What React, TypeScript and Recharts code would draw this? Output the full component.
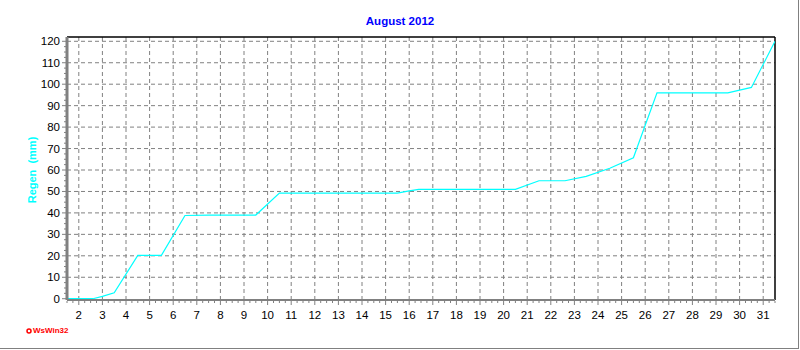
import React from "react";
import { LineChart, Line, XAxis, YAxis, ReferenceLine } from "recharts";

// rain sum (mm), x = day of month (end-of-day points)
const rainDays = [1.5, 2.6, 3.0, 3.5, 4.5, 5.5, 6.5, 7.5, 8.5, 9.5, 10.5, 11.5, 12.5, 13.5, 14.5, 15.5, 16.0, 16.4, 17.5, 18.5, 19.5, 20.5, 21.5, 22.6, 23.5, 24.5, 25.5, 26.5, 27.5, 28.5, 29.5, 30.5, 31.5];
const rainTotals = [0, 0, 1.1, 2.8, 20.2, 20.2, 38.8, 39, 39, 39, 49.2, 49.2, 49.2, 49.2, 49.2, 49.2, 50.3, 51, 51, 51, 51, 51, 55, 55, 57, 60.8, 65.7, 96, 96, 96, 96, 98.5, 120];

const dayLabels = [2, 3, 4, 5, 6, 7, 8, 9, 10, 11, 12, 13, 14, 15, 16, 17, 18, 19, 20, 21, 22, 23, 24, 25, 26, 27, 28, 29, 30, 31];
const rainLabels = [0, 10, 20, 30, 40, 50, 60, 70, 80, 90, 100, 110, 120];

const data = rainDays.map((d, i) => ({ day: d, rain: rainTotals[i] }));

// minor ticks: every 6 hours on x, every 2.5 mm on y
const xTicks = Array.from({ length: 121 }, (_, k) => 1.5 + k * 0.25);
const yTicks = Array.from({ length: 49 }, (_, k) => k * 2.5);

const font = "'Liberation Sans', Arial, sans-serif";
const grey = "#808080";

const XTick = (props: any) => {
  const { x, y, payload } = props;
  const major = Number.isInteger(payload.value);
  return (
    <g>
      <line x1={x} x2={x} y1={y + 1} y2={y + (major ? 5 : 3)} stroke={grey} />
      {major && (
        <text x={x} y={y + 19} textAnchor="middle" fontSize={11.5} fontFamily={font} fill="#000">
          {payload.value}
        </text>
      )}
    </g>
  );
};

const YTick = (props: any) => {
  const { x, y, payload } = props;
  const major = payload.value % 10 === 0;
  return (
    <g>
      <line x1={x - (major ? 5 : 3)} x2={x - 1} y1={y} y2={y} stroke={grey} />
      {major && (
        <text x={x - 7} y={y + 4} textAnchor="end" fontSize={11.5} fontFamily={font} fill="#000">
          {payload.value}
        </text>
      )}
    </g>
  );
};

const App = () => {
  return (
    <div style={{ position: "absolute", left: 0, top: 0, width: 800, height: 350, background: "#fff" }}>
      <div
        style={{
          position: "absolute", left: 0, top: 0, width: 798, height: 348,
          borderRight: `1px solid ${grey}`, borderBottom: `1px solid ${grey}`,
        }}
      />
      <div
        style={{
          position: "absolute", left: 0, top: 15, width: 800, textAlign: "center",
          fontFamily: font, fontWeight: "bold", fontSize: 11.5, color: "#0000FF",
        }}
      >
        August 2012
      </div>
      <div
        style={{
          position: "absolute", left: 32, top: 170, transform: "translate(-50%, -50%) rotate(-90deg)",
          fontFamily: font, fontWeight: "bold", fontSize: 11, color: "#00FFFF", whiteSpace: "pre",
        }}
      >
        Regen  (mm)
      </div>
      <svg style={{ position: "absolute", left: 26, top: 328 }} width={8} height={8}>
        <circle cx={3} cy={3} r={2} fill="none" stroke="#FF0000" strokeWidth={1.5} />
      </svg>
      <div
        style={{
          position: "absolute", left: 33, top: 326, fontFamily: font, fontWeight: "bold",
          fontSize: 8, color: "#FF0000",
        }}
      >
        WsWin32
      </div>
      <div style={{ position: "absolute", left: 0, top: 0 }}>
        <LineChart width={800} height={350} data={data} margin={{ top: 37, right: 25, left: 0, bottom: 30 }}>
          <XAxis
            dataKey="day"
            type="number"
            domain={[1.5, 31.5]}
            ticks={xTicks}
            interval={0}
            height={20}
            tickSize={0}
            tickMargin={0}
            tickLine={false}
            tick={<XTick />}
            axisLine={{ stroke: grey, strokeWidth: 2 }}
            allowDataOverflow
          />
          <YAxis
            type="number"
            domain={[-0.6, 122]}
            ticks={yTicks}
            interval={0}
            width={67}
            tickSize={0}
            tickMargin={0}
            tickLine={false}
            tick={<YTick />}
            axisLine={{ stroke: grey, strokeWidth: 3 }}
            allowDataOverflow
          />
          {rainLabels.slice(1).map((v) => (
            <ReferenceLine key={"h" + v} y={v} stroke={grey} strokeDasharray="4 3" />
          ))}
          {dayLabels.map((d) => (
            <ReferenceLine key={"v" + d} x={d} stroke={grey} strokeDasharray="4 3" />
          ))}
          <ReferenceLine y={122} stroke="#000" strokeWidth={1.5} />
          <ReferenceLine x={31.5} stroke="#000" strokeWidth={1.5} />
          <Line
            type="linear"
            dataKey="rain"
            stroke="#00FFFF"
            strokeWidth={1.2}
            dot={false}
            isAnimationActive={false}
          />
        </LineChart>
      </div>
    </div>
  );
};

export default App;
